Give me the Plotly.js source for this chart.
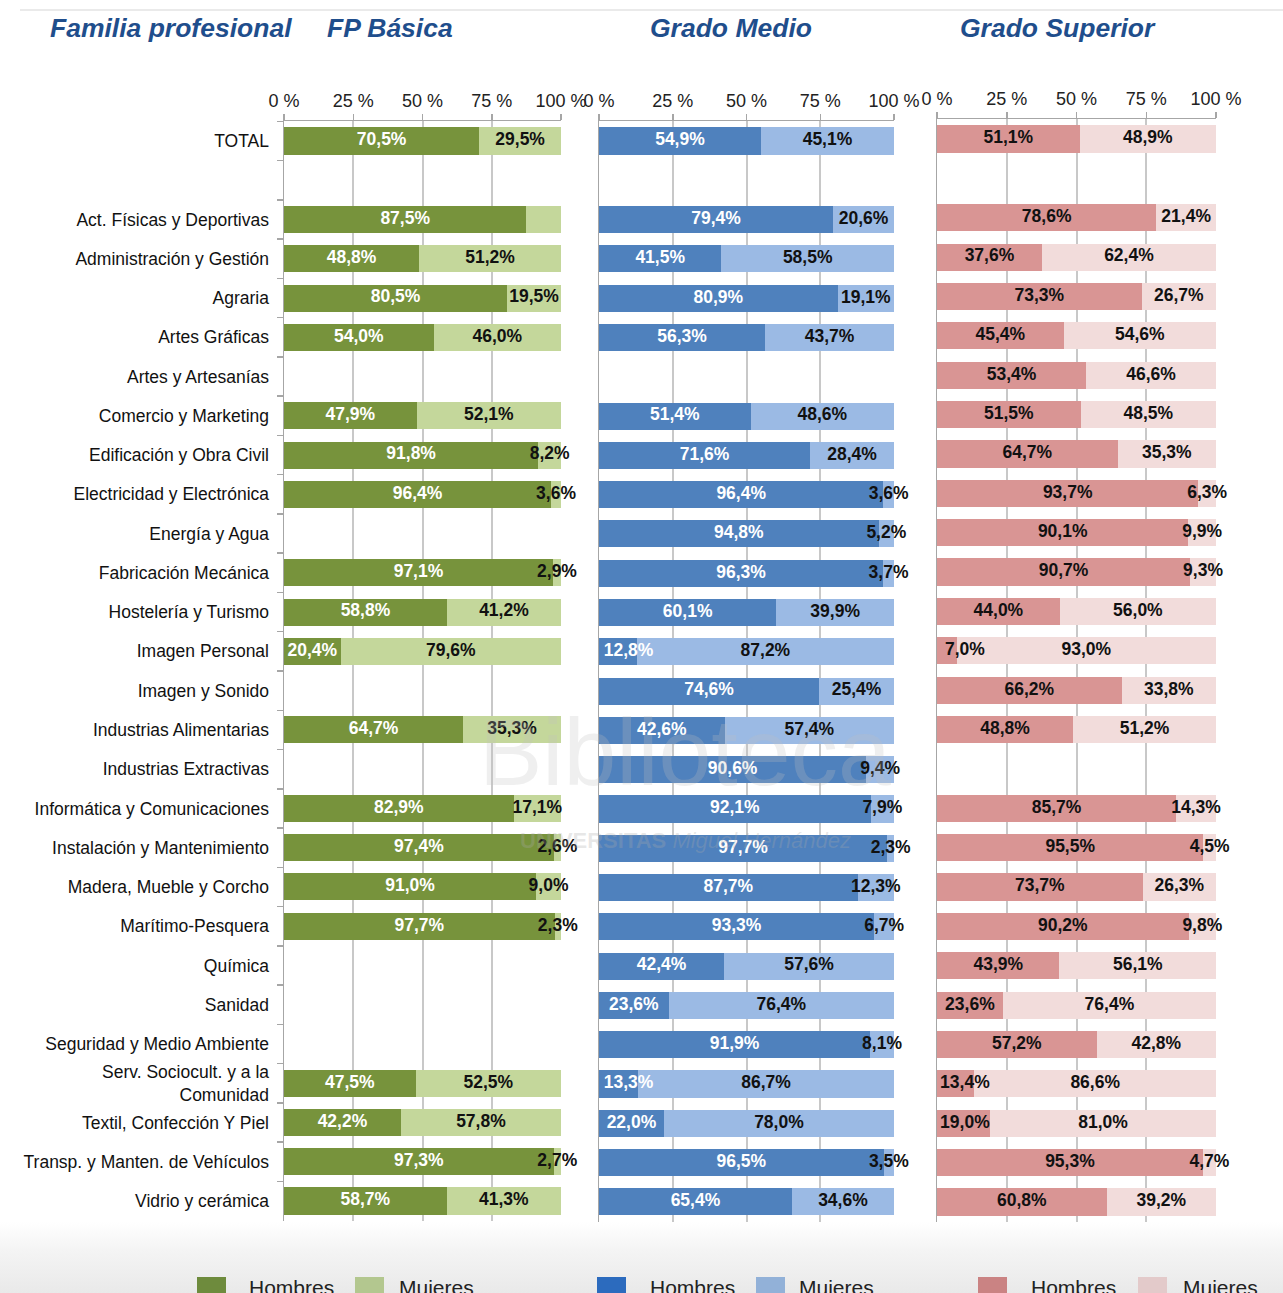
<!DOCTYPE html>
<html>
<head>
<meta charset="utf-8">
<script src="https://cdn.plot.ly/plotly-3.0.1.min.js"></script>
<style>
html,body{margin:0;padding:0;}
body{width:1283px;height:1293px;overflow:hidden;
background:linear-gradient(to bottom,#ffffff 0px,#ffffff 1222px,#f4f4f4 1250px,#e9e9e9 1293px);}
#chart{width:1283px;height:1293px;}
</style>
</head>
<body>
<div id="chart"></div>
<script>
// ---------- DATA ----------
const categories = ['TOTAL', '\u00a0', 'Act. Físicas y Deportivas', 'Administración y Gestión', 'Agraria',
  'Artes Gráficas', 'Artes y Artesanías', 'Comercio y Marketing', 'Edificación y Obra Civil',
  'Electricidad y Electrónica', 'Energía y Agua', 'Fabricación Mecánica', 'Hostelería y Turismo',
  'Imagen Personal', 'Imagen y Sonido', 'Industrias Alimentarias', 'Industrias Extractivas',
  'Informática y Comunicaciones', 'Instalación y Mantenimiento', 'Madera, Mueble y Corcho',
  'Marítimo-Pesquera', 'Química', 'Sanidad', 'Seguridad y Medio Ambiente',
  'Serv. Sociocult. y a la<br>Comunidad', 'Textil, Confección Y Piel',
  'Transp. y Manten. de Vehículos', 'Vidrio y cerámica'];

const fpbHombres = [70.5, null, 87.5, 48.8, 80.5, 54.0, null, 47.9, 91.8, 96.4, null, 97.1, 58.8, 20.4, null,
  64.7, null, 82.9, 97.4, 91.0, 97.7, null, null, null, 47.5, 42.2, 97.3, 58.7];
const fpbMujeres = [29.5, null, 12.5, 51.2, 19.5, 46.0, null, 52.1, 8.2, 3.6, null, 2.9, 41.2, 79.6, null,
  35.3, null, 17.1, 2.6, 9.0, 2.3, null, null, null, 52.5, 57.8, 2.7, 41.3];
const fpbMujeresSinEtiqueta = ['Act. Físicas y Deportivas'];

const gmHombres = [54.9, null, 79.4, 41.5, 80.9, 56.3, null, 51.4, 71.6, 96.4, 94.8, 96.3, 60.1, 12.8, 74.6,
  42.6, 90.6, 92.1, 97.7, 87.7, 93.3, 42.4, 23.6, 91.9, 13.3, 22.0, 96.5, 65.4];
const gmMujeres = [45.1, null, 20.6, 58.5, 19.1, 43.7, null, 48.6, 28.4, 3.6, 5.2, 3.7, 39.9, 87.2, 25.4,
  57.4, 9.4, 7.9, 2.3, 12.3, 6.7, 57.6, 76.4, 8.1, 86.7, 78.0, 3.5, 34.6];

const gsHombres = [51.1, null, 78.6, 37.6, 73.3, 45.4, 53.4, 51.5, 64.7, 93.7, 90.1, 90.7, 44.0, 7.0, 66.2,
  48.8, null, 85.7, 95.5, 73.7, 90.2, 43.9, 23.6, 57.2, 13.4, 19.0, 95.3, 60.8];
const gsMujeres = [48.9, null, 21.4, 62.4, 26.7, 54.6, 46.6, 48.5, 35.3, 6.3, 9.9, 9.3, 56.0, 93.0, 33.8,
  51.2, null, 14.3, 4.5, 26.3, 9.8, 56.1, 76.4, 42.8, 86.6, 81.0, 4.7, 39.2];

const tickValues = [0, 25, 50, 75, 100];
const tickLabels = ['0 %', '25 %', '50 %', '75 %', '100 %'];
const panelTitles = ['Familia profesional', 'FP Básica', 'Grado Medio', 'Grado Superior'];
const seriesNames = ['Hombres', 'Mujeres'];

// ---------- STYLE ----------
const W = 1283, H = 1293;
const narrow = '"Liberation Sans Narrow", "Arial Narrow", "Liberation Sans", Arial, sans-serif';
const regular = '"Liberation Sans", Arial, sans-serif';
const panels = [
  {h: fpbHombres, m: fpbMujeres, hide: fpbMujeresSinEtiqueta, xa: 'x', ya: 'y',
   cH: '#77933C', cM: '#C4D79B', tH: '#ffffff', tM: '#111111', lH: '#6E8B3D', lM: '#B3C78F',
   xpx: [284, 561], ypx: [121.4, 1220.6], leg: [197, 247, 355, 397]},
  {h: gmHombres, m: gmMujeres, hide: [], xa: 'x2', ya: 'y2',
   cH: '#4F81BD', cM: '#9BBAE4', tH: '#ffffff', tM: '#111111', lH: '#2C6BBE', lM: '#92B1D8',
   xpx: [599, 894], ypx: [121.4, 1221.5], leg: [597, 648, 756, 797]},
  {h: gsHombres, m: gsMujeres, hide: [], xa: 'x3', ya: 'y3',
   cH: '#D99594', cM: '#F2DCDB', tH: '#111111', tM: '#111111', lH: '#CA8383', lM: '#E3CACA',
   xpx: [937, 1216], ypx: [119.3, 1221.7], leg: [978, 1029, 1138, 1181]}
];
const px = v => v / W, py = v => 1 - v / H;
const fmt = v => (v === null ? '' : v.toFixed(1).replace('.', ',') + '%');
const minLabelCentre = 10; // labels of narrow first segments are kept inside the plot area

const traces = [];
const layout = {
  width: W, height: H, margin: {l: 0, r: 0, t: 0, b: 0},
  paper_bgcolor: 'rgba(0,0,0,0)', plot_bgcolor: 'rgba(0,0,0,0)',
  barmode: 'stack', bargap: 0.31, showlegend: false,
  annotations: [], shapes: []
};

panels.forEach((p, i) => {
  const n = i === 0 ? '' : String(i + 1);
  traces.push({type: 'bar', orientation: 'h', name: seriesNames[0], y: categories, x: p.h,
    xaxis: p.xa, yaxis: p.ya, marker: {color: p.cH, line: {width: 0}}, hoverinfo: 'x+y'});
  traces.push({type: 'bar', orientation: 'h', name: seriesNames[1], y: categories, x: p.m,
    xaxis: p.xa, yaxis: p.ya, marker: {color: p.cM, line: {width: 0}}, hoverinfo: 'x+y'});
  traces.push({type: 'scatter', mode: 'text', y: categories,
    x: p.h.map(v => v === null ? null : Math.max(v / 2, minLabelCentre)), text: p.h.map(fmt),
    xaxis: p.xa, yaxis: p.ya, cliponaxis: false, hoverinfo: 'skip',
    textfont: {family: regular, size: 17.5, weight: 'bold', color: p.tH}});
  traces.push({type: 'scatter', mode: 'text', y: categories,
    x: p.m.map((v, k) => v === null ? null : p.h[k] + v / 2),
    text: p.m.map((v, k) => p.hide.includes(categories[k]) ? '' : fmt(v)),
    xaxis: p.xa, yaxis: p.ya, cliponaxis: false, hoverinfo: 'skip',
    textfont: {family: regular, size: 17.5, weight: 'bold', color: p.tM}});

  layout['xaxis' + n] = {
    domain: [px(p.xpx[0]), px(p.xpx[1])], anchor: p.ya, side: 'top', range: [0, 100], fixedrange: true,
    tickvals: tickValues, ticktext: tickLabels, ticks: 'outside', ticklen: 6, tickwidth: 1.5,
    tickcolor: '#A6A6A6', showline: true, linecolor: '#A6A6A6', linewidth: 1.5,
    showgrid: true, gridcolor: '#C8C8C8', gridwidth: 2, zeroline: false,
    tickfont: {family: regular, size: 18, color: '#222'}
  };
  layout['yaxis' + n] = {
    domain: [py(p.ypx[1]), py(p.ypx[0])], anchor: p.xa, type: 'category',
    categoryorder: 'array', categoryarray: categories, range: [categories.length - 0.5, -0.5],
    fixedrange: true, showgrid: false, zeroline: false,
    showline: true, linecolor: '#A6A6A6', linewidth: 1.5,
    showticklabels: i === 0, tickson: 'boundaries',
    ticks: i === 0 ? 'outside' : '', ticklen: 6, tickwidth: 1.5, tickcolor: '#A6A6A6',
    ticklabelstandoff: 10,
    tickfont: {family: regular, size: 17.5, color: '#111'}
  };

  // custom legend (swatch + text)
  const legY0 = 1277, legY1 = 1305;
  [[p.leg[0], p.lH, seriesNames[0], p.leg[1]], [p.leg[2], p.lM, seriesNames[1], p.leg[3]]].forEach(l => {
    layout.shapes.push({type: 'rect', xref: 'paper', yref: 'paper',
      x0: px(l[0]), x1: px(l[0] + 29), y0: py(legY1), y1: py(legY0),
      fillcolor: l[1], line: {width: 0}});
    layout.annotations.push({xref: 'paper', yref: 'paper', x: px(l[3]), y: py(1287),
      xanchor: 'left', yanchor: 'middle', showarrow: false, text: l[2],
      font: {family: regular, size: 21, color: '#222'}});
  });
});

// titles
const titleX = [171, 390, 731, 1058];
panelTitles.forEach((t, i) => {
  layout.annotations.push({xref: 'paper', yref: 'paper', x: px(titleX[i]), y: py(28),
    xanchor: 'center', yanchor: 'middle', showarrow: false, text: t,
    font: {family: regular, size: 26.5, weight: 'bold', style: 'italic', color: '#1F4E8C'}});
});

// faint watermark
layout.annotations.push({xref: 'paper', yref: 'paper', x: px(685), y: py(752), showarrow: false,
  text: 'Biblioteca', font: {family: regular, size: 95, color: 'rgba(190,190,190,0.25)'}});
layout.annotations.push({xref: 'paper', yref: 'paper', x: px(685), y: py(840), showarrow: false,
  text: '<b>UNIVERSITAS</b> <i>Miguel Hernández</i>', font: {family: regular, size: 22, color: 'rgba(170,170,170,0.28)'}});

// top separator line
layout.shapes.push({type: 'line', xref: 'paper', yref: 'paper', x0: px(20), x1: 1, y0: py(10), y1: py(10),
  line: {color: '#EAEAEA', width: 2}});

Plotly.newPlot('chart', traces, layout, {displayModeBar: false, staticPlot: true});
</script>
</body>
</html>
